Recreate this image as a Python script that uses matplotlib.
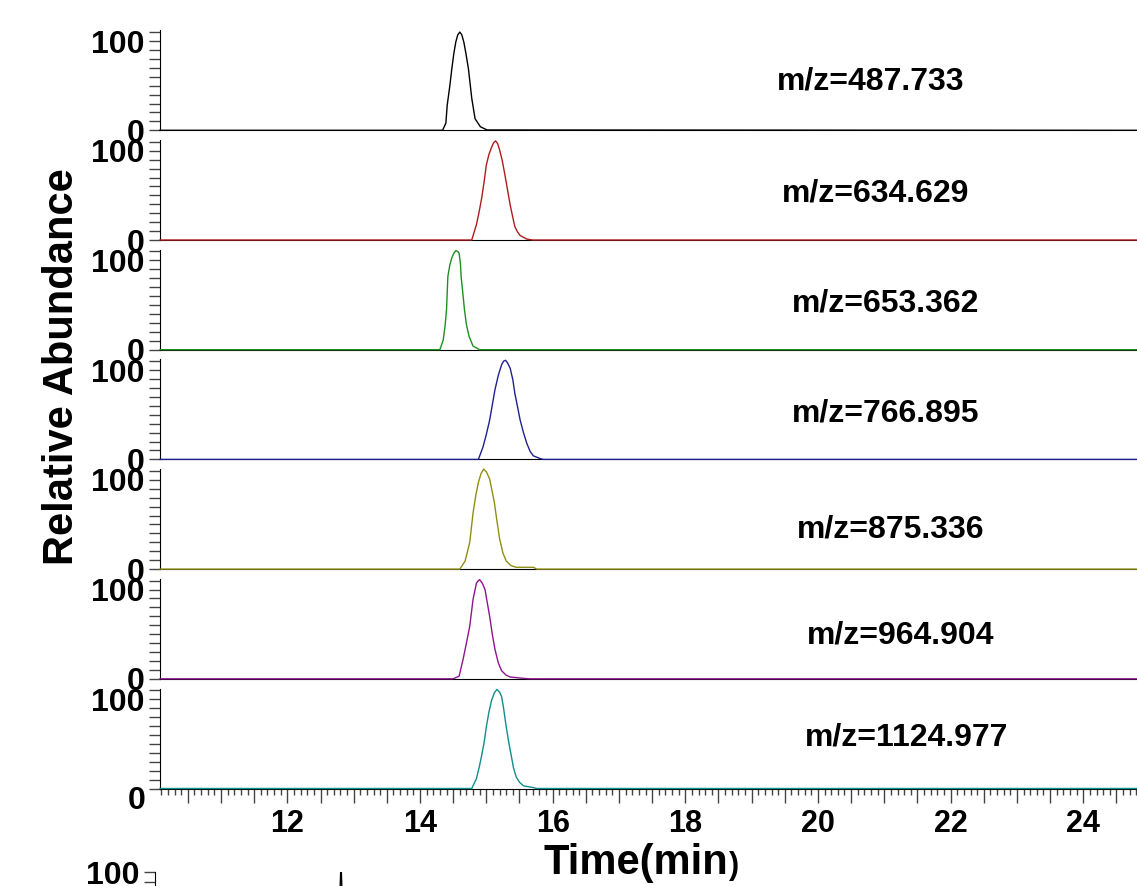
import numpy as np
import matplotlib
matplotlib.use("Agg")
import matplotlib.pyplot as plt
from matplotlib.ticker import MultipleLocator, FuncFormatter

plt.rcParams['font.family'] = ['Liberation Sans', 'DejaVu Sans']
plt.rcParams['font.weight'] = 'bold'

# traces: retention time (min) and relative abundance
labels = ["m/z=487.733", "m/z=634.629", "m/z=653.362", "m/z=766.895",
          "m/z=875.336", "m/z=964.904", "m/z=1124.977"]
colors = ["#000000", "#b01c1c", "#1f8f1f", "#20208f", "#8f8f14", "#8f148f", "#128c8c"]

t_487 = [10.08, 14.34, 14.39, 14.41, 14.45, 14.48, 14.51, 14.54, 14.57, 14.60, 14.63, 14.66, 14.69,
         14.73, 14.78, 14.83, 14.91, 15.01, 24.81]
i_487 = [0, 0, 8, 28, 50, 69, 86, 99, 107, 110, 107, 99, 87, 69, 36, 13, 4, 0.4, 0]

t_634 = [10.08, 14.78, 14.85, 14.89, 14.93, 14.97, 15.00, 15.04, 15.08, 15.11, 15.14, 15.17, 15.20,
         15.24, 15.28, 15.32, 15.36, 15.40, 15.43, 15.47, 15.51, 15.61, 15.70, 24.81]
i_634 = [0, 0, 17, 31, 47, 67, 84, 96, 104, 109, 111, 108, 101, 89, 73, 56, 39, 25, 15, 9, 5, 1, 0, 0]

t_653 = [10.08, 14.30, 14.35, 14.38, 14.40, 14.42, 14.45, 14.48, 14.51, 14.54, 14.57, 14.59, 14.61,
         14.62, 14.65, 14.67, 14.70, 14.74, 14.80, 14.90, 24.81]
i_653 = [0, 0, 11, 28, 45, 82, 95, 103, 108, 111, 110, 108, 96, 82, 60, 45, 28, 15, 4, 0, 0]

t_766 = [10.08, 14.88, 14.95, 15.00, 15.05, 15.09, 15.13, 15.18, 15.23, 15.26, 15.29, 15.32, 15.36,
         15.40, 15.43, 15.47, 15.51, 15.56, 15.61, 15.66, 15.71, 15.81, 15.86, 24.81]
i_766 = [0, 0, 14, 28, 44, 61, 78, 94, 106, 110, 111, 108, 102, 89, 74, 59, 44, 30, 18, 9, 4, 1, 0, 0]

t_875 = [10.08, 14.60, 14.68, 14.75, 14.80, 14.84, 14.88, 14.92, 14.96, 15.00, 15.05, 15.08, 15.12,
         15.16, 15.20, 15.25, 15.30, 15.37, 15.45, 15.71, 15.76, 24.81]
i_875 = [0, 0, 9, 30, 63, 82, 97, 107, 112, 109, 101, 90, 75, 54, 34, 18, 9, 4, 2, 2, 0, 0]

t_964 = [10.08, 14.50, 14.59, 14.65, 14.70, 14.75, 14.80, 14.85, 14.88, 14.90, 14.94, 14.98, 15.01,
         15.05, 15.09, 15.13, 15.18, 15.23, 15.30, 15.36, 15.56, 15.65, 24.81]
i_964 = [0, 0, 3, 22, 40, 59, 89, 107, 110, 111, 107, 100, 87, 70, 50, 33, 18, 9, 4, 2, 0.5, 0, 0]

t_1124 = [10.08, 14.78, 14.85, 14.89, 14.93, 14.97, 15.00, 15.04, 15.08, 15.12, 15.16, 15.20, 15.23,
          15.26, 15.30, 15.34, 15.38, 15.41, 15.45, 15.50, 15.56, 15.71, 15.76, 24.81]
i_1124 = [0, 0, 11, 23, 37, 53, 69, 86, 99, 107, 111, 108, 103, 90, 69, 51, 35, 23, 13, 7, 3, 1, 0, 0]

times = [t_487, t_634, t_653, t_766, t_875, t_964, t_1124]
abund = [i_487, i_634, i_653, i_766, i_875, i_964, i_1124]

# cropped panel of the next figure at the very bottom
t_cut = [10.08, 12.82, 12.85, 12.87, 12.89, 12.92, 24.81]
i_cut = [0, 0, 70, 110, 70, 0, 0]

x_lo, x_hi = 10.08, 24.81
W, H = 1137, 886
left = 160
base0, step, ph = 130.3, 109.7, 100.0
label_pos = [(871, 82), (876, 193), (886, 304), (886, 413), (891, 530), (901, 635), (907, 737)]


def style_y(ax, top):
    for s in ['top', 'right']:
        ax.spines[s].set_visible(False)
    ax.set_xlim(x_lo, x_hi)
    ax.set_ylim(0, top)
    ax.set_yticks([0, 100])
    ax.yaxis.set_minor_locator(MultipleLocator(10))
    ax.tick_params(axis='y', which='both', direction='out', length=8, width=1,
                   color='#444444', labelsize=23, pad=3)


fig = plt.figure(figsize=(W / 100, H / 100), dpi=100)
axes = []
for k in range(7):
    base = base0 + k * step
    ax = fig.add_axes([left / W, 1 - base / H, 1 - left / W, ph / H])
    ax.plot(times[k], abund[k], color=colors[k], lw=1.0, clip_on=False, zorder=3)
    style_y(ax, 112)
    ax.set_yticklabels(['0', '100'])
    fig.text(label_pos[k][0] / W, 1 - label_pos[k][1] / H, labels[k],
             ha='center', va='center', fontsize=23)
    if k < 6:
        ax.tick_params(axis='x', which='both', bottom=False, labelbottom=False)
    axes.append(ax)

# bottom time axis
ax = axes[-1]
ax.set_yticklabels(['', '100'])
fig.text(146 / W, 1 - 801 / H, '0', ha='right', va='center', fontsize=23)
ax.xaxis.set_major_locator(MultipleLocator(0.5))
ax.xaxis.set_minor_locator(MultipleLocator(0.1))
ax.xaxis.set_major_formatter(FuncFormatter(
    lambda v, p: f"{int(round(v))}" if abs(v - round(v)) < 1e-6 and int(round(v)) % 2 == 0 else ""))
ax.tick_params(axis='x', which='major', direction='out', length=10, width=1,
               color='#444444', labelsize=22, pad=5)
ax.tick_params(axis='x', which='minor', direction='out', length=4, width=1, color='#444444')

fig.text(728 / W, 1 - 874 / H, 'Time(min', ha='right', va='baseline', fontsize=30)
fig.text(729 / W, 1 - 874 / H, ')', ha='left', va='baseline', fontsize=22)
fig.text(62 / W, 1 - 367 / H, 'Relative Abundance', ha='center', va='center',
         rotation=90, fontsize=30)

# next chromatogram, mostly outside the picture
ax_cut = fig.add_axes([155 / W, 1 - 972 / H, 1 - 155 / W, ph / H])
ax_cut.plot(t_cut, i_cut, color='black', lw=1.0)
style_y(ax_cut, 100)
ax_cut.set_yticklabels(['0', '100'])
ax_cut.tick_params(axis='x', which='both', bottom=False, labelbottom=False)

fig.savefig('out.png', dpi=100)
